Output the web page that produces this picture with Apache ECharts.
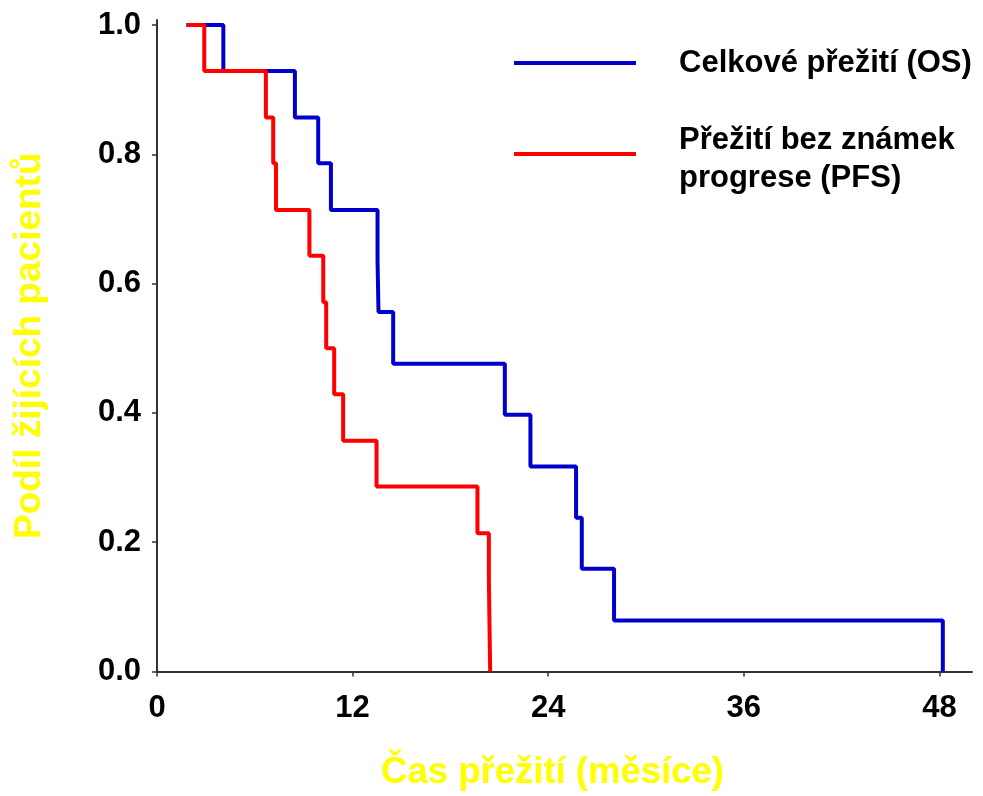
<!DOCTYPE html>
<html>
<head>
<meta charset="utf-8">
<script src="https://cdn.jsdelivr.net/npm/echarts@6/dist/echarts.min.js"></script>
<style>
  html, body { margin: 0; padding: 0; background: #ffffff; }
  #chart { width: 983px; height: 796px; }
</style>
</head>
<body>
<div id="chart"></div>
<script>
// Kaplan–Meier estimates: time of each step (months) and survival fraction from that time on
const osName = 'Celkové přežití (OS)';
const osTimes    = [1.8, 4.07, 8.46, 9.89, 10.67, 13.53, 13.59, 14.49, 21.34, 22.91, 25.71, 26.06, 28.04, 48.21];
const osSurvival = [1.0, 0.929, 0.857, 0.786, 0.714, 0.635, 0.556, 0.476, 0.397, 0.317, 0.238, 0.159, 0.079, 0];

const pfsName = 'Přežití bez známek progrese (PFS)';
const pfsLines = ['Přežití bez známek', 'progrese (PFS)'];
const pfsTimes    = [1.84, 2.9, 6.68, 7.13, 7.3, 9.35, 10.2, 10.38, 10.87, 11.42, 13.47, 19.66, 20.36, 20.4, 20.44];
const pfsSurvival = [1.0, 0.929, 0.857, 0.786, 0.714, 0.643, 0.571, 0.5, 0.429, 0.357, 0.286, 0.214, 0.143, 0.071, 0];

const xTicks = [0, 12, 24, 36, 48];
const yTicks = [0, 0.2, 0.4, 0.6, 0.8, 1.0];

const xTitle = 'Čas přežití (měsíce)';
const yTitle = 'Podíl žijících pacientů';

const pairs = (xs, ys) => xs.map((x, i) => [x, ys[i]]);

const FONT = '"Liberation Sans", Arial, sans-serif';
const axisLineStyle = { color: '#333333', width: 2 };
const legendFont = { fontFamily: FONT, fontSize: 31, fontWeight: 'bold', color: '#000000' };

const chart = echarts.init(document.getElementById('chart'), null, { renderer: 'canvas' });

chart.setOption({
  backgroundColor: '#ffffff',
  animation: false,
  textStyle: { fontFamily: FONT },
  grid: { left: 157, right: 11, top: 20, bottom: 121.5, containLabel: false },
  legend: [
    {
      data: [osName],
      left: 514, top: 44, padding: 0,
      orient: 'vertical',
      icon: 'rect', itemWidth: 122, itemHeight: 4,
      selectedMode: false,
      textStyle: Object.assign({ lineHeight: 38, padding: [0, 0, 0, 38] }, legendFont)
    },
    {
      data: [pfsName],
      left: 514, top: 124.7, padding: 0,
      orient: 'vertical',
      icon: 'rect', itemWidth: 122, itemHeight: 4,
      selectedMode: false,
      // two-line label; the icon sits a little above the middle of the text block
      formatter: () => '{l1|' + pfsLines[0] + '}\n{l2|' + pfsLines[1] + '}',
      textStyle: Object.assign({
        padding: [0, 0, 0, 38],
        rich: {
          l1: Object.assign({ lineHeight: 49.2 }, legendFont),
          l2: Object.assign({ lineHeight: 27.4 }, legendFont)
        }
      }, legendFont)
    }
  ],
  xAxis: {
    type: 'value',
    min: 0, max: 50,
    name: xTitle,
    nameLocation: 'middle',
    nameGap: 82.5,
    nameTextStyle: { fontFamily: FONT, fontSize: 36.5, fontWeight: 'bold', color: '#FFFF00',
                     padding: [0, 24, 0, 0] },
    axisLine: { show: true, onZero: false, lineStyle: axisLineStyle },
    axisTick: { show: true, inside: false, length: 5, lineStyle: { color: '#333333', width: 1.5 },
                customValues: xTicks },
    axisLabel: { customValues: xTicks, margin: 21, fontFamily: FONT, fontSize: 31,
                 fontWeight: 'bold', color: '#000000' },
    splitLine: { show: false }
  },
  yAxis: {
    type: 'value',
    min: 0, max: 1.0077,
    name: yTitle,
    nameLocation: 'middle',
    nameGap: 108.5,
    nameTextStyle: { fontFamily: FONT, fontSize: 37, fontWeight: 'bold', color: '#FFFF00' },
    axisLine: { show: true, onZero: false, lineStyle: axisLineStyle },
    axisTick: { show: true, inside: false, length: 5, lineStyle: { color: '#333333', width: 1.5 },
                customValues: yTicks },
    axisLabel: { customValues: yTicks, margin: 16, fontFamily: FONT, fontSize: 31,
                 fontWeight: 'bold', color: '#000000',
                 formatter: v => v.toFixed(1) },
    splitLine: { show: false }
  },
  series: [
    {
      name: osName,
      type: 'line',
      step: 'end',
      data: pairs(osTimes, osSurvival),
      symbol: 'none',
      color: '#0000CC',
      lineStyle: { color: '#0000CC', width: 4 },
      z: 2
    },
    {
      name: pfsName,
      type: 'line',
      step: 'end',
      data: pairs(pfsTimes, pfsSurvival),
      symbol: 'none',
      color: '#FF0000',
      lineStyle: { color: '#FF0000', width: 4 },
      z: 3
    }
  ]
});
</script>
</body>
</html>
